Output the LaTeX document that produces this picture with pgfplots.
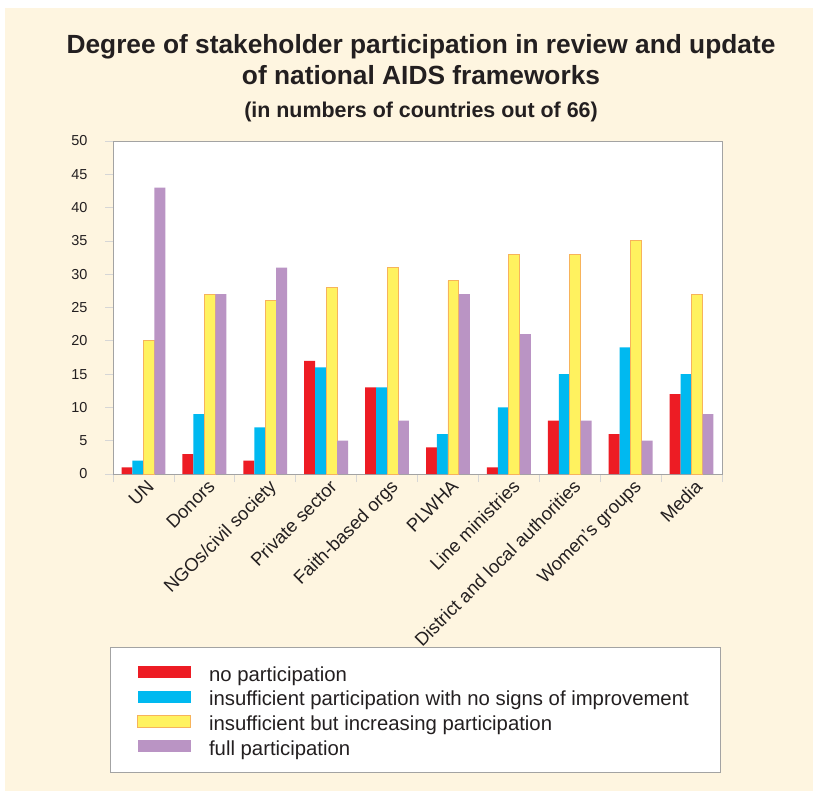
\documentclass[border=0pt]{standalone}
\usepackage{fontspec}
\setmainfont{Liberation Sans}
\usepackage{pgfplots}
\pgfplotsset{compat=1.18}
\definecolor{cream}{HTML}{FEF5E0}
\definecolor{cRed}{HTML}{ED1C24}
\definecolor{cBlue}{HTML}{00B9F0}
\definecolor{cYellow}{HTML}{FFF25F}
\definecolor{cOrange}{HTML}{F7B35B}
\definecolor{cPurple}{HTML}{BA94C4}
\definecolor{framegray}{HTML}{A3A3A3}
\definecolor{tickgray}{HTML}{D6D6D6}
\definecolor{txt}{HTML}{231F20}
\pgfplotsset{mylegend/.style={legend image code/.code={\path[##1] (0bp,-2bp) rectangle (53bp,10bp); \path (71bp,0bp);}}}
\begin{document}
\begin{tikzpicture}
\useasboundingbox (0,0) rectangle (813bp,-791bp);
\fill[cream] (5bp,-8bp) rectangle (813bp,-791bp);
\node[anchor=base, font=\fontsize{26.4}{31}\selectfont\bfseries, text=txt] at (421bp,-53bp) {Degree of stakeholder participation in review and update};
\node[anchor=base, font=\fontsize{26.4}{31}\selectfont\bfseries, text=txt] at (421bp,-84bp) {of national AIDS frameworks};
\node[anchor=base, font=\fontsize{21.5}{25}\selectfont\bfseries, text=txt] at (421bp,-117bp) {(in numbers of countries out of 66)};
\draw[framegray, line width=1pt, fill=white] (110bp,-647bp) rectangle (720bp,-772bp);
\begin{axis}[
  at={(113bp,-474bp)}, anchor=south west,
  scale only axis, width=609bp, height=333bp,
  xmin=-0.5, xmax=9.5, ymin=0, ymax=50,
  ybar=0pt, bar width=0.18,
  every axis plot/.append style={mylegend},
  axis background/.style={fill=white},
  axis line style={draw=framegray, line width=1pt},
  xtick={-0.5,0.5,...,9.5}, xticklabels={},
  extra x ticks={0,1,2,3,4,5,6,7,8,9},
  extra x tick labels={UN,Donors,NGOs/civil society,Private sector,Faith-based orgs,PLWHA,Line ministries,District and local authorities,Women’s groups,Media},
  extra x tick style={major tick length=0pt},
  ytick={0,5,...,50},
  tick align=outside, tick pos=left,
  major tick length=8bp,
  major tick style={draw=tickgray, line width=0.8pt},
  xticklabel style={xshift=2.5bp, yshift=-3bp, rotate=45, anchor=north east, font=\fontsize{18.5}{18.5}\selectfont, text=txt, inner sep=1bp},
  yticklabel style={xshift=-14bp, font=\fontsize{14.5}{14.5}\selectfont, text=txt},
  /pgf/number format/assume math mode=true,
  legend style={at={(0.0394,-0.5766)}, anchor=north west, draw=none, fill=none, inner sep=0pt,
    row sep=4.5bp, font=\fontsize{20.4}{22}\selectfont, text=txt,
    nodes={inner sep=0pt, text height=15bp, text depth=5bp}},
  legend cell align=left,
]
\addplot[fill=cRed, draw=none] coordinates {(0,1) (1,3) (2,2) (3,17) (4,13) (5,4) (6,1) (7,8) (8,6) (9,12)};
\addplot[fill=cBlue, draw=none] coordinates {(0,2) (1,9) (2,7) (3,16) (4,13) (5,6) (6,10) (7,15) (8,19) (9,15)};
\addplot[fill=cYellow, draw=cOrange, line width=0.9pt] coordinates {(0,20) (1,27) (2,26) (3,28) (4,31) (5,29) (6,33) (7,33) (8,35) (9,27)};
\addplot[fill=cPurple, draw=none] coordinates {(0,43) (1,27) (2,31) (3,5) (4,8) (5,27) (6,21) (7,8) (8,5) (9,9)};
\legend{no participation, insufficient participation with no signs of improvement, insufficient but increasing participation, full participation}
\end{axis}
\end{tikzpicture}
\end{document}
